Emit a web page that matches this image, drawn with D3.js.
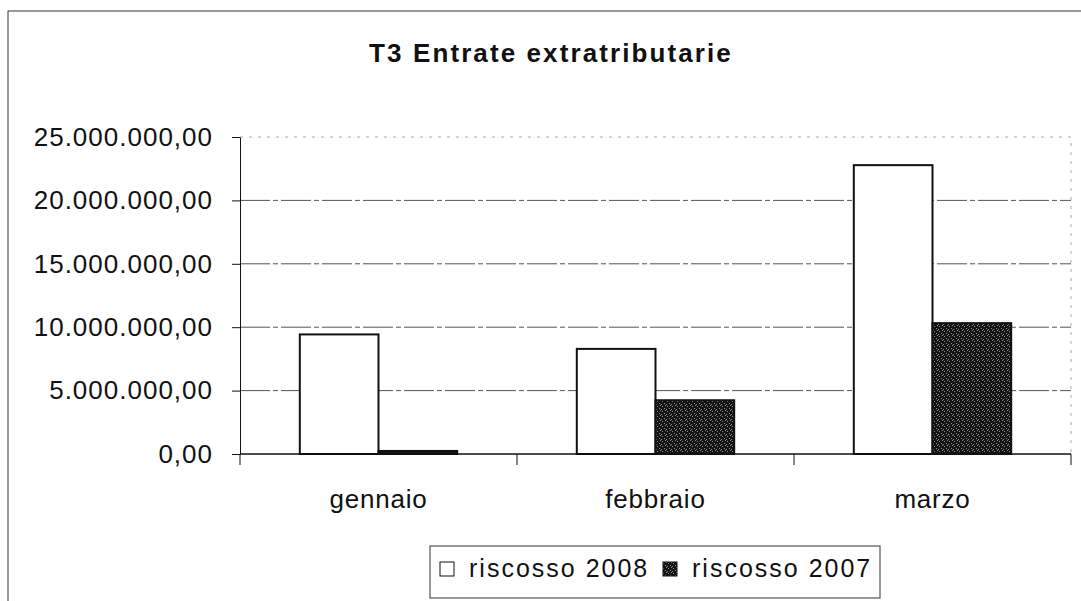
<!DOCTYPE html>
<html>
<head>
<meta charset="utf-8">
<script src="https://cdn.jsdelivr.net/npm/d3@7"></script>
<style>
  body { margin: 0; background: #fff; }
  text { font-family: "Liberation Sans", Arial, sans-serif; fill: #111; }
</style>
</head>
<body>
<div class="chart"></div>
<script>
// Data.
const categories = ['gennaio', 'febbraio', 'marzo'];
const seriesNames = ['riscosso 2008', 'riscosso 2007'];
const riscosso2008 = [9430000, 8290000, 22780000];
const riscosso2007 = [240000, 4240000, 10320000];
const yTicks = [0, 5000000, 10000000, 15000000, 20000000, 25000000];

const W = 1081, H = 601;
const plot = { left: 240, right: 1071, top: 137, bottom: 454 };

const it = d3.formatLocale({ decimal: ',', thousands: '.', grouping: [3], currency: ['', '€'] });
const fmt = it.format(',.2f');

const svg = d3.select('.chart').append('svg')
  .attr('width', W)
  .attr('height', H);

// Texture for the 2007 bars.
const defs = svg.append('defs');
const pat = defs.append('pattern')
  .attr('id', 'tex')
  .attr('width', 5).attr('height', 5)
  .attr('patternUnits', 'userSpaceOnUse');
pat.append('rect').attr('width', 5).attr('height', 5).attr('fill', '#141414');
[[0, 1], [3, 0], [2, 3], [4, 4]].forEach(p => {
  pat.append('rect').attr('x', p[0]).attr('y', p[1]).attr('width', 1).attr('height', 1).attr('fill', '#8a8a8a');
});

// Outer frame.
svg.append('rect')
  .attr('x', 8).attr('y', 11)
  .attr('width', W + 20).attr('height', H + 20)
  .attr('fill', 'none')
  .attr('stroke', '#333')
  .attr('stroke-width', 1);

// Title.
svg.append('text')
  .attr('x', 551).attr('y', 62)
  .attr('text-anchor', 'middle')
  .style('font-size', '26px')
  .style('font-weight', 'bold')
  .style('letter-spacing', '2.1px')
  .text('T3 Entrate extratributarie');

// Scales.
const x0 = d3.scaleBand()
  .domain(categories)
  .range([plot.left, plot.right])
  .paddingInner(0).paddingOuter(0);

const x1 = d3.scaleBand()
  .domain(seriesNames)
  .range([0, x0.bandwidth()])
  .paddingInner(0).paddingOuter(0.76);

const y = d3.scaleLinear()
  .domain([0, 25000000])
  .range([plot.bottom, plot.top]);

// Plot area border (top/right, faint).
svg.append('path')
  .attr('d', `M${plot.left},${plot.top}H${plot.right}V${plot.bottom}`)
  .attr('fill', 'none')
  .attr('stroke', '#aaa')
  .attr('stroke-dasharray', '3,6');

// Gridlines.
svg.append('g')
  .selectAll('line')
  .data(yTicks.filter(d => d > 0 && d < 25000000))
  .enter()
  .append('line')
  .attr('x1', plot.left).attr('x2', plot.right)
  .attr('y1', d => y(d)).attr('y2', d => y(d))
  .attr('stroke', '#555')
  .attr('stroke-dasharray', '30,3,5,3');

// Y axis.
const yAxis = d3.axisLeft(y)
  .tickValues(yTicks)
  .tickFormat(fmt)
  .tickSizeInner(8)
  .tickSizeOuter(0)
  .tickPadding(19);

const yAxisDraw = svg.append('g')
  .attr('class', 'y axis')
  .attr('transform', `translate(${plot.left},0)`)
  .call(yAxis);
yAxisDraw.selectAll('text')
  .style('font-size', '26px')
  .style('letter-spacing', '1px')
  .style('font-family', '"Liberation Sans", Arial, sans-serif')
  .attr('fill', '#111');
yAxisDraw.selectAll('line, path').attr('stroke', '#111');

// Bars.
const data = [riscosso2008, riscosso2007];
const fills = ['#fff', 'url(#tex)'];

const groups = svg.append('g').attr('class', 'bars')
  .selectAll('g')
  .data(categories)
  .enter()
  .append('g')
  .attr('transform', d => `translate(${x0(d)},0)`);

groups.selectAll('rect')
  .data((c, i) => seriesNames.map((s, k) => ({ s: s, k: k, v: data[k][i] })))
  .enter()
  .append('rect')
  .attr('x', d => x1(d.s))
  .attr('y', d => y(d.v))
  .attr('width', x1.bandwidth())
  .attr('height', d => y(0) - y(d.v))
  .attr('fill', d => fills[d.k])
  .attr('stroke', '#111')
  .attr('stroke-width', 2);

// X axis.
const xAxisDraw = svg.append('g')
  .attr('class', 'x axis')
  .attr('transform', `translate(0,${plot.bottom})`);
xAxisDraw.append('line')
  .attr('x1', plot.left).attr('x2', plot.right)
  .attr('stroke', '#111').attr('stroke-width', 1.5);
xAxisDraw.selectAll('.tick')
  .data(categories.map(c => x0(c)).concat([plot.right]))
  .enter()
  .append('line')
  .attr('x1', d => d).attr('x2', d => d)
  .attr('y1', 0).attr('y2', 11)
  .attr('stroke', '#111');
xAxisDraw.selectAll('.cat')
  .data(categories)
  .enter()
  .append('text')
  .attr('x', d => x0(d) + x0.bandwidth() / 2)
  .attr('y', 54)
  .attr('text-anchor', 'middle')
  .style('font-size', '26px')
  .style('letter-spacing', '0.8px')
  .text(d => d);

// Legend.
const legend = svg.append('g').attr('class', 'legend');
legend.append('rect')
  .attr('x', 430).attr('y', 546)
  .attr('width', 450).attr('height', 52)
  .attr('fill', '#fff')
  .attr('stroke', '#333');

const legendX = [440, 663];
const items = legend.selectAll('.item')
  .data(seriesNames)
  .enter()
  .append('g')
  .attr('transform', (d, i) => `translate(${legendX[i]},562)`);
items.append('rect')
  .attr('width', 14).attr('height', 14)
  .attr('fill', (d, i) => fills[i])
  .attr('stroke', '#111');
items.append('text')
  .attr('x', 29).attr('y', 15)
  .style('font-size', '25px')
  .style('letter-spacing', '2px')
  .text(d => d);
</script>
</body>
</html>
